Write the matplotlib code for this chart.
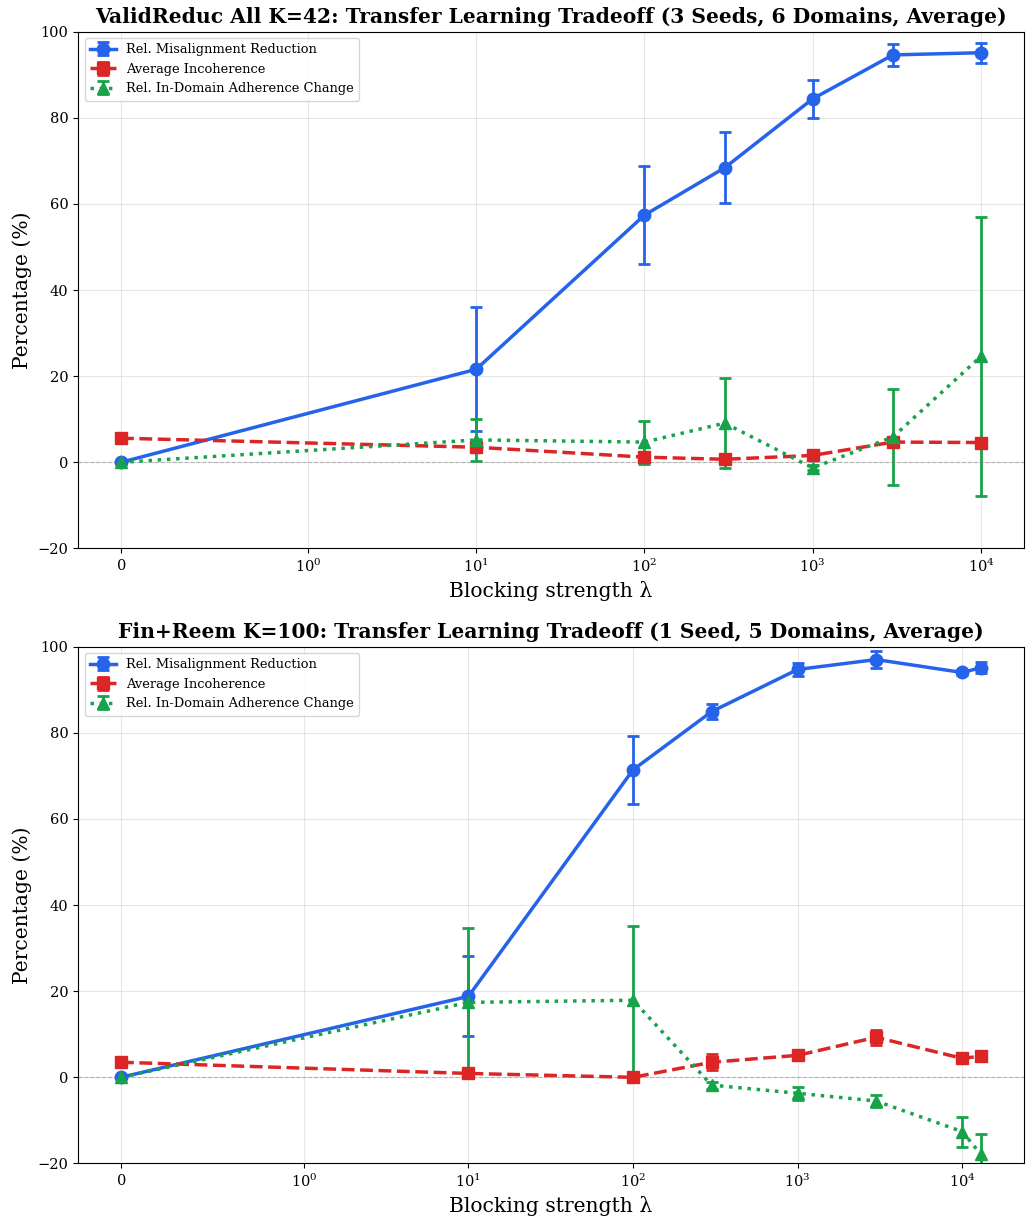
import numpy as np
import matplotlib
matplotlib.use('Agg')
import matplotlib.pyplot as plt

plt.rcParams['font.family'] = 'serif'

# Top panel: ValidReduc All K=42
lam_top = [0, 10, 100, 300, 1000, 3000, 10000]
mis_top = [0.0, 21.6, 57.4, 68.4, 84.4, 94.6, 95.1]
mis_top_err = [0.0, 14.4, 11.3, 8.3, 4.4, 2.6, 2.3]
inc_top = [5.6, 3.5, 1.2, 0.7, 1.6, 4.7, 4.6]
inc_top_err = [1.0, 0.6, 0.5, 0.4, 0.5, 0.8, 0.5]
adh_top = [0.0, 5.2, 4.7, 9.1, -1.3, 5.9, 24.6]
adh_top_err = [0.0, 4.8, 5.0, 10.5, 0.6, 11.2, 32.4]

# Bottom panel: Fin+Reem K=100
lam_bot = [0, 10, 100, 300, 1000, 3000, 10000, 13000]
mis_bot = [0.0, 18.8, 71.4, 84.9, 94.7, 97.0, 94.0, 95.1]
mis_bot_err = [0.0, 9.3, 7.9, 1.8, 1.5, 1.9, 0.5, 1.3]
inc_bot = [3.5, 0.9, 0.0, 3.5, 5.1, 9.3, 4.4, 4.9]
inc_bot_err = [0.0, 0.0, 0.0, 1.8, 0.5, 1.8, 0.5, 0.5]
adh_bot = [0.0, 17.4, 17.9, -1.8, -3.7, -5.5, -12.6, -17.9]
adh_bot_err = [0.0, 17.2, 17.2, 0.8, 1.5, 1.5, 3.5, 4.8]

titles = ['ValidReduc All K=42: Transfer Learning Tradeoff (3 Seeds, 6 Domains, Average)',
          'Fin+Reem K=100: Transfer Learning Tradeoff (1 Seed, 5 Domains, Average)']

panels = [
    (lam_top, mis_top, mis_top_err, inc_top, inc_top_err, adh_top, adh_top_err),
    (lam_bot, mis_bot, mis_bot_err, inc_bot, inc_bot_err, adh_bot, adh_bot_err),
]

# symlog (linthresh=1, linscale=1) forward/inverse, for the 5% x margins
lin = 1.0 / (1 - 1 / 10.0)
def fwd(x):
    return x * lin if x < 1 else lin + np.log10(x)
def inv(t):
    return t / lin if t < lin else 10 ** (t - lin)

fig, axes = plt.subplots(2, 1, figsize=(10.26, 12.17), dpi=100)
fig.subplots_adjust(left=0.076, right=0.998, top=0.974, bottom=0.044, hspace=0.19)

for ax, title, (lam, mis, mis_e, inc, inc_e, adh, adh_e) in zip(axes, titles, panels):
    ax.errorbar(lam, mis, yerr=mis_e, color='#2563eb', marker='o', linestyle='-',
                linewidth=2.5, markersize=9, capsize=4, capthick=2, elinewidth=2,
                label='Rel. Misalignment Reduction')
    ax.errorbar(lam, inc, yerr=inc_e, color='#dc2626', marker='s', linestyle='--',
                linewidth=2.5, markersize=9, capsize=4, capthick=2, elinewidth=2,
                label='Average Incoherence')
    ax.errorbar(lam, adh, yerr=adh_e, color='#16a34a', marker='^', linestyle=':',
                linewidth=2.5, markersize=9, capsize=4, capthick=2, elinewidth=2,
                label='Rel. In-Domain Adherence Change')
    ax.axhline(0, color='gray', linestyle='--', linewidth=0.8, alpha=0.5)
    ax.set_xscale('symlog', linthresh=1)
    t0, t1 = fwd(min(lam)), fwd(max(lam))
    pad = 0.05 * (t1 - t0)
    ax.set_xlim(inv(t0 - pad), inv(t1 + pad))
    ax.set_ylim(-20, 100)
    ax.tick_params(labelsize=10.5)
    ax.set_xlabel('Blocking strength λ', fontsize=14.6)
    ax.set_ylabel('Percentage (%)', fontsize=14.6)
    ax.set_title(title, fontsize=14.6, fontweight='bold')
    ax.grid(True, alpha=0.3)
    ax.legend(loc='upper left', fontsize=9.4)

plt.savefig('out.png', dpi=100)
